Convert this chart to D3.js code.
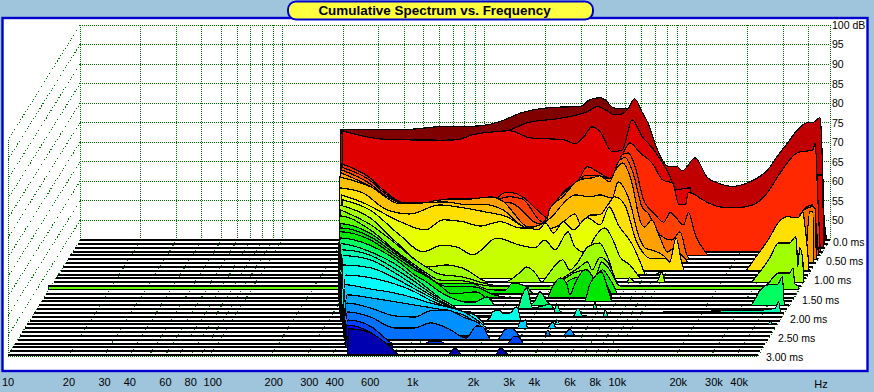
<!doctype html>
<html lang="en">
<head>
<meta charset="UTF-8">
<title>Cumulative Spectrum vs. Frequency</title>
<script src="https://cdnjs.cloudflare.com/ajax/libs/d3/7.8.5/d3.min.js"></script>
<style>
  html, body { margin: 0; padding: 0; background: #9fc5dc; }
  svg { display: block; }
  text { font-family: "Liberation Sans", Arial, sans-serif; fill: #000; }
  .tick line, .domain { display: none; }
</style>
</head>
<body>
<div class="chart"></div>
<script>
const gridHz = [10,20,30,40,50,60,70,80,90,100,200,300,400,500,600,700,800,900,1000,2000,3000,4000,5000,6000,7000,8000,9000,10000,20000,30000,40000];
const hzTicks = [10,20,30,40,60,80,100,200,300,400,600,1000,2000,3000,4000,6000,8000,10000,20000,30000,40000];
const dbTicks = [100,95,90,85,80,75,70,65,60,55,50];
const msTicks = [0,0.5,1,1.5,2,2.5,3];
const sliceMs = [0,0.1,0.2,0.3,0.4,0.5,0.6,0.7,0.8,0.9,1,1.1,1.2,1.3,1.4,1.5,1.6,1.7,1.8,1.9,2,2.1,2.2,2.3,2.4,2.5,2.6,2.7,2.8,2.9,3];

// [Hz, dB], one list per time slice
const s00 = [[195,73.2],[216,73.2],[381,73.2],[478,73.5],[601,74],[754,74],[947,74.2],[1190,75.3],[1330,76.3],[1490,77.4],[1670,78.1],[2355,79],[2960,79.1],[3315,80.9],[3715,81.4],[3930,80.9],[4340,78.8],[4665,78.6],[5225,78.6],[5860,72],[7360,60],[11600,58],[45500,55],[49000,45]];
const s01 = [[200,73.4],[304,71.1],[636,70.8],[893,72.4],[1190,73.2],[1330,73.9],[1490,74.9],[1670,76],[2355,77],[2960,78],[3315,78.8],[3715,80.1],[4160,79],[4500,78],[4665,78],[5225,79.3],[5670,82.1],[6200,78.5],[6565,76.2],[7360,69],[8245,64.9],[9240,64.7],[9780,63.7],[11270,67],[13000,61.9],[14570,60.6],[17280,59.7],[20500,60.6],[23000,61.9],[25750,63.9],[28860,67.5],[32330,70.8],[36240,74.2],[40600,76],[43000,76],[46800,77.3],[47400,74.2],[48200,63.9],[49300,46]];
const s02 = [[209,74.9],[311,72.9],[381,72.6],[660,72.5],[770,72.6],[925,73.9],[1215,74.7],[1410,74.9],[1770,73.1],[2590,72.6],[2960,71.6],[3240,73.1],[3590,75.9],[3930,74.7],[4520,69.5],[5060,70],[5670,77.7],[6350,73.4],[7110,70.6],[7530,68.8],[8730,63.1],[9240,59.8],[11000,60.3],[11100,47],[14570,46],[36000,45],[45500,63.6],[49500,63.6],[50000,45.2]];
const s03 = [[214,67.4],[295,63.8],[341,60.8],[445,57.4],[614,57.7],[730,58.5],[1240,58.7],[1360,60],[1490,60],[1670,59],[2100,54.4],[2210,53.6],[2355,56.4],[2640,60],[3210,63.8],[3480,66.7],[4020,65.1],[4620,63.6],[5170,69.2],[5670,72.8],[6350,70.3],[7280,67.7],[8300,63.2],[9240,62.5],[9900,57],[10700,57],[11000,60],[11270,60],[13000,58.2],[15800,56.4],[19000,56.2],[23000,56.9],[27100,60],[31400,65.1],[38300,70.3],[45500,71],[46800,72.8],[48000,60.8],[49500,45.4]];
const s04 = [[218,67.6],[304,64.1],[352,61.2],[463,58.2],[710,58.4],[1060,57.9],[1280,59.2],[1490,60],[1720,59.4],[2100,53.8],[2560,52.3],[3510,65.4],[4160,65.3],[4770,64.3],[5340,70.7],[5730,71.2],[6210,67.5],[6810,59.2],[7190,57.2],[7800,55.3],[8550,53.5],[9240,55.9],[10750,52.8],[11350,55.9],[12300,50.2],[13760,45.9],[14240,45.1],[39100,45],[42000,56.6],[46600,57.9],[49300,48.9],[49900,45]];
const s05 = [[223,67.9],[311,64.3],[360,61.7],[473,58.6],[730,59.1],[1215,59.4],[1530,59.4],[2150,54],[2700,61.1],[3800,65.3],[4880,65.8],[5225,69.7],[5670,71],[6210,67.1],[6880,58.4],[7360,56.8],[8450,51.2],[9680,49.9],[10600,52],[11470,46.1],[11860,45],[39100,45],[41600,56.6],[47700,58.4],[49500,57.9],[50000,45]];
const s06 = [[229,68.1],[318,64.7],[398,61.7],[500,59.7],[745,61.2],[915,61.2],[1280,61.9],[1440,60.9],[1960,54.2],[2380,55.5],[2460,58.6],[2860,61.9],[3480,66.3],[4020,66.8],[4370,67.3],[4880,65.8],[5170,68.3],[5670,70.6],[6280,65.8],[6950,55.5],[7280,54.2],[7900,56],[8650,51.6],[9460,47.8],[10130,48.8],[11350,46.5],[12150,45],[45000,45],[47700,58.1],[49500,58.1],[50000,45]];
const s07 = [[233,68],[330,65.5],[463,61.1],[770,61.6],[995,60.9],[1240,60.9],[1490,59.6],[1960,55],[2610,57.8],[2860,60.3],[3400,63.4],[4020,62.9],[4520,63.4],[5170,62.6],[5530,66.7],[6210,62.9],[7110,51.9],[7530,49.8],[8140,49.3],[9460,47.5],[10020,46],[10600,45.1]];
const s08 = [[238,66.2],[311,64.9],[408,60.6],[530,59.5],[745,61.8],[970,61.1],[1265,60],[1600,58.8],[2010,55.9],[2410,55.4],[2930,56.7],[3480,59.5],[3750,56.5],[4110,59.2],[4620,59.3],[5060,61.8],[5470,63.9],[6140,61.8],[7030,52.3],[7530,49.7],[8140,48.2],[9680,48.2],[10240,47.2],[11000,53.4],[11730,47.2],[12150,45],[24000,45],[27000,48.2],[32000,53.6],[35000,57.1],[39100,58.8],[44000,58.5],[46600,60],[47700,56.5],[49500,48.2],[50000,45]];
const s09 = [[250,65.4],[323,63.3],[490,58.5],[650,56.4],[800,59],[1000,58.5],[1215,57.4],[1530,58.5],[1920,56.9],[2100,56.9],[2355,56.4],[2560,58.2],[2800,55.6],[3130,58.5],[3510,56.4],[4110,59.5],[4770,57.7],[5280,62.3],[5860,57.7],[6880,52.6],[7700,46.9],[7950,45.1],[8950,45],[9460,45.6],[9780,45]];
const s10 = [[260,65.1],[356,62.5],[500,56.1],[650,51.8],[815,53.5],[960,53],[1150,51],[1510,55.3],[1960,53.5],[2330,52.8],[2610,54.8],[2930,52.3],[3400,56.9],[3675,53],[4210,51.5],[4520,54.8],[5170,57.9],[5670,54.8],[6140,50.5],[6880,48.4],[7700,45.1]];
const s11 = [[258,64.8],[366,61.5],[512,54.5],[720,48.9],[870,49.4],[1050,48.6],[1430,45],[1690,45],[2010,47.4],[2180,48.9],[2450,46.8],[2590,45],[2720,46.3],[3280,50.7],[3560,48.1],[3880,49.9],[4370,54],[5000,55],[5470,51.5],[6140,45.1],[6810,45],[7030,46.1],[7530,45],[9570,45],[10130,47.6],[10600,45],[27700,45],[30900,47.6],[34600,51.1],[38300,55],[43500,55],[46600,56.6],[47200,54],[47700,48.9],[48800,53.8],[50500,50.7],[51000,45.5]];
const s12 = [[268,64.5],[381,60.6],[500,56],[630,51.7],[730,49.6],[835,48],[1085,47.3],[1430,45.5],[1700,45],[2990,45],[3280,46.5],[4110,49.9],[4470,51.2],[4720,49.1],[5170,52.4],[5670,50.9],[6280,45]];
const s13 = [[10,46],[270,46],[274,63.9],[389,60.3],[512,55.2],[643,51.4],[745,49.1],[855,47.5],[1115,47.3],[1510,46],[2990,46],[4070,49.6],[4570,50.1],[5000,48],[5400,52.1],[5930,50.1],[6640,46],[34600,46],[38300,48.3],[40200,49.3],[46000,49.3],[47700,50.6],[48800,46.5],[51000,46]];
const s14 = [[278,45],[285,62.9],[403,60.3],[530,55.7],[665,51.8],[770,49.5],[885,47.5],[1240,47.7],[1550,46],[1860,45.9],[2010,47.7],[2380,46.7],[2560,45],[3280,45],[3675,47.7],[4370,49.3],[4880,47.2],[5600,51.1],[6140,48.5],[6640,45]];
const s15 = [[285,45],[292,62.8],[412,60.5],[542,56.2],[681,52.6],[783,50.5],[980,47.8],[1345,47.7],[1690,45.6],[2010,45],[3080,45],[3240,47.4],[3560,50],[3830,48.7],[3980,45.6],[4210,48.5],[4720,52.1],[5115,50.5],[5400,45.4],[5790,49.5],[6140,47.7],[6420,45.1]];
const s16 = [[293,45],[298,62.8],[422,60.7],[555,56.6],[700,53],[810,51.2],[925,49.2],[1070,46.9],[1410,47.4],[1580,45.9],[1770,45],[4820,45],[5115,49.2],[5400,51.2],[5860,52.5],[6280,48.4],[6565,45.1]];
const s17 = [[304,45],[307,62.2],[437,60.2],[580,56.6],[720,52.7],[835,50.7],[958,48.4],[1165,46.3],[1390,45.6],[1640,47.1],[1800,45],[2670,45],[2830,46.3],[2990,48.4],[3280,45.6],[3440,45],[32700,45],[36700,48.9],[40200,50.2],[44500,50.2],[47200,52.3],[48300,45.3],[51000,45]];
const s18 = [[313,45],[318,61.7],[447,59.6],[590,56.5],[737,52.9],[900,49.4],[1070,46.3],[1165,45],[2380,45],[2490,48.1],[2640,50.4],[2830,45.3],[3170,45.8],[3440,46.3],[3640,45],[5600,45],[5730,46.8],[5860,45]];
const s19 = [[323,45],[333,61.1],[463,59.6],[608,56.2],[763,52.9],[925,49.8],[1115,47.5],[1345,45.2],[3675,45],[3830,47.3],[4020,45],[39100,45.7],[46000,46.2],[47700,47.8],[48800,45.2]];
const s20 = [[336,45],[345,60.6],[473,59.5],[622,56.2],[772,53.1],[947,50.3],[1140,48],[1330,46.2],[1450,45.2],[4720,45],[5000,47.2],[5280,45.2],[6640,45],[6810,46.7],[7030,45]];
const s21 = [[346,45],[356,59.2],[483,58.5],[636,55.9],[800,53.1],[970,50.8],[1165,48.7],[1360,47.2],[1530,45.4],[1800,45],[1880,45.6],[1950,47.2],[2100,47.7],[2180,46.9],[2355,46.9],[2560,48.5],[2670,45.1]];
const s22 = [[360,45],[375,57.6],[500,56.9],[660,55.3],[825,53.3],[980,51.2],[1205,49.4],[1450,48.2],[1670,47.1],[1840,45.1],[4070,45],[4160,46.1],[4310,45],[46000,45],[47200,45.9],[48300,45]];
const s23 = [[373,45],[385,56.1],[512,55],[673,54],[845,52.7],[1015,51.4],[1230,50.4],[1490,49.1],[1770,46.6],[1950,45],[2720,45],[2800,46.6],[2900,46.8],[2990,47.1],[3060,45],[3830,45],[4070,46.6],[4210,45]];
const s24 = [[385,45],[403,54.5],[530,53.7],[700,52.7],[870,51.9],[1050,51.2],[1265,50.4],[1510,49.4],[1840,46.5],[2060,45]];
const s25 = [[398,45],[412,53.4],[542,52.1],[710,50.1],[893,49.8],[1070,51.4],[1295,51.6],[1580,49.6],[1840,48.3],[2100,45],[3930,45],[4070,46.5],[4210,45],[4820,45],[5225,46.7],[5530,45]];
const s26 = [[412,45],[427,52.1],[555,50.8],[730,48],[915,48],[1100,49.3],[1360,47.7],[1650,45.4],[1860,48.5],[1990,48.3],[2180,45.1],[2355,45],[2560,47.5],[2700,48],[2930,47],[3030,45]];
const s27 = [[427,45],[441,51],[580,49.2],[673,46.4],[740,45],[1060,45],[1130,45.6],[1265,45.6],[1330,45],[2700,45],[2900,46.7],[3030,46.9],[3240,45]];
const s28 = [[441,45],[452,50.7],[590,48.7],[690,46.1],[785,45.1]];
const s29 = [[463,45],[470,50.7],[608,48.4],[710,46.1],[825,45]];
const s30 = [[478,45],[483,51.7],[622,50.6],[754,47.6],[845,45.3],[865,45],[1490,45],[1620,46.8],[1770,45],[2560,45],[2720,46.8],[2960,45]];
const slices = [s00,s01,s02,s03,s04,s05,s06,s07,s08,s09,s10,s11,s12,s13,s14,s15,s16,s17,s18,s19,s20,s21,s22,s23,s24,s25,s26,s27,s28,s29,s30];

const sliceColors = ['#800000','#c00000','#e00000','#ff2800','#ff4000','#ff6800','#ffa000','#ffc000','#ffe000','#e8ff00','#c8ff00','#a0ff00','#80ff00','#60ff00','#00f000','#00e000','#00e800','#00ff60','#00ff90','#00ffb0','#00ffd0','#00ffe8','#00ffff','#00d0ff','#00a8ff','#0090ff','#0070ff','#0040ff','#0000ff','#0000d0','#0000b0'];

const W = 874, H = 392;
const floorDb = 45;
const xBack = d3.scaleLog().domain([10, 51000]).range([80, 830]);
const y = d3.scaleLinear().domain([floorDb, 100]).range([240, 25]);
const depthX = d3.scaleLinear().domain([0, 3]).range([0, -72]);
const depthY = d3.scaleLinear().domain([0, 3]).range([0, 115]);
const xFront = d3.scaleLog().domain([10, 51000]).range([80 + depthX(3), 830 + depthX(3)]);

const svg = d3.select('.chart').append('svg').attr('width', W).attr('height', H);

// frame and title
svg.append('rect').attr('x', 2.5).attr('y', 18).attr('width', 865).attr('height', 353)
  .attr('fill', '#fff').attr('stroke', '#0000cc').attr('stroke-width', 2.4);
svg.append('rect').attr('x', 288).attr('y', 1.5).attr('width', 305).attr('height', 18).attr('rx', 8)
  .attr('fill', '#ffff40').attr('stroke', '#0000cc').attr('stroke-width', 2);
svg.append('text').attr('x', 434.5).attr('y', 15).attr('text-anchor', 'middle')
  .attr('font-size', 13.45).attr('font-weight', 'bold').text('Cumulative Spectrum vs. Frequency');

// dotted grid
const grid = svg.append('g').attr('fill', 'none').attr('stroke', '#007000').attr('shape-rendering', 'crispEdges');
function gline(x1, y1, x2, y2) {
  const vert = x1 === x2, horiz = y1 === y2;
  const sx = v => vert ? Math.floor(v) + 0.5 : (horiz ? Math.floor(v) : v);
  const sy = v => horiz ? Math.floor(v) + 0.5 : (vert ? Math.floor(v) : v);
  grid.append('line')
    .attr('x1', sx(x1)).attr('y1', sy(y1))
    .attr('x2', sx(x2)).attr('y2', sy(y2))
    .attr('stroke-dasharray', vert || horiz ? '1 1' : '1 2');
}
const yTop = y(100), yFloor = y(floorDb), dx = depthX(3), dy = depthY(3);
gridHz.forEach(f => {
  gline(xBack(f), yTop, xBack(f), yFloor);
  gline(xBack(f), yFloor, xBack(f) + dx, yFloor + dy);
});
dbTicks.forEach(d => {
  gline(xBack(10), y(d), xBack(51000), y(d));
  gline(xBack(10), y(d), xBack(10) + dx, y(d) + dy);
});
gline(xBack(51000), yTop, xBack(51000), yFloor);
gline(xBack(10), yFloor, xBack(10) + dx, yFloor + dy);
gline(xBack(51000), yFloor, xBack(51000) + dx, yFloor + dy + 1);
gline(xBack(10) + dx, yTop + dy, xBack(10) + dx, yFloor + dy + 1);
gline(xBack(10) + dx, yFloor + dy + 1, xBack(51000) + dx, yFloor + dy + 1);

// slices, back to front
const plot = svg.append('g').attr('shape-rendering', 'crispEdges');
slices.forEach((pts, i) => {
  const ms = sliceMs[i];
  const ox = depthX(ms), oy = depthY(ms);
  const base = y(floorDb) + oy;
  plot.append('line').attr('x1', xBack(10) + ox).attr('x2', xBack(51000) + ox)
    .attr('y1', base).attr('y2', base).attr('stroke', '#000')
    .attr('stroke-width', pts[0][0] === 10 ? 1 : 2);
  const line = d3.line()
    .x(d => xBack(d[0]) + ox)
    .y(d => y(Math.max(d[1], floorDb)) + oy)
    .curve(d3.curveMonotoneX);
  const x0 = xBack(pts[0][0]) + ox, xn = xBack(pts[pts.length - 1][0]) + ox;
  plot.append('path')
    .attr('d', `M${x0},${base}L` + line(pts).slice(1) + `L${xn},${base}Z`)
    .attr('fill', sliceColors[i]).attr('stroke', '#000').attr('stroke-width', 1.2);
});

// axes
const fmtHz = d => d >= 1000 ? (d / 1000) + 'k' : String(d);
const xAxis = svg.append('g').attr('transform', 'translate(0,378)')
  .call(d3.axisBottom(xFront).tickValues(hzTicks).tickFormat(fmtHz).tickSize(0).tickPadding(0));
xAxis.selectAll('text').attr('font-size', 11)
  .attr('dx', d => (fmtHz(d).length - 2) * 2.5 - 0.5);
svg.append('text').attr('x', 821).attr('y', 388).attr('text-anchor', 'middle').attr('font-size', 11).text('Hz');

const yAxis = svg.append('g').attr('transform', `translate(${xBack(51000)},0)`)
  .call(d3.axisRight(y).tickValues(dbTicks).tickFormat(d => d === 100 ? '100 dB' : String(d)).tickSize(0).tickPadding(2));
yAxis.selectAll('text').attr('font-size', 10.5);

msTicks.forEach(ms => {
  svg.append('text')
    .attr('x', xBack(51000) + depthX(ms) + (ms === 0 ? 3 : 8))
    .attr('y', y(floorDb) + depthY(ms) + 6)
    .attr('font-size', 10.5)
    .text(ms === 0 ? '0.0 ms' : ms.toFixed(2) + ' ms');
});
</script>
</body>
</html>
